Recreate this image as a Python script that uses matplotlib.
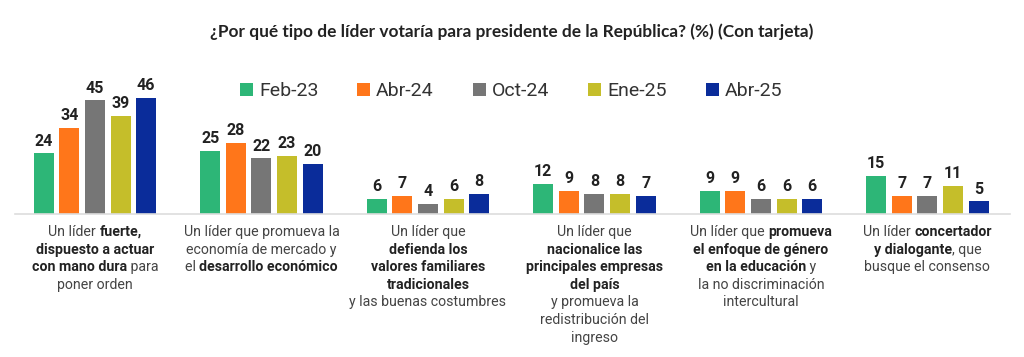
import matplotlib
matplotlib.use("Agg")
import matplotlib.pyplot as plt
from matplotlib import font_manager
from matplotlib.patches import Patch
from matplotlib.transforms import blended_transform_factory, offset_copy
import numpy as np

plt.rcParams["font.family"] = ["Roboto", "DejaVu Sans"]

# survey waves and values (%)
waves = ["Feb-23", "Abr-24", "Oct-24", "Ene-25", "Abr-25"]
colors = ["#2DB677", "#FF761A", "#767676", "#C5BE2A", "#0A2C9A"]

feb23 = [24, 25, 6, 12, 9, 15]
abr24 = [34, 28, 7, 9, 9, 7]
oct24 = [45, 22, 4, 8, 6, 7]
ene25 = [39, 23, 6, 8, 6, 11]
abr25 = [46, 20, 8, 7, 6, 5]
series = [feb23, abr24, oct24, ene25, abr25]

title = "¿Por qué tipo de líder votaría para presidente de la República? (%) (Con tarjeta)"

# category labels: lines of (text, bold) pieces
categories = [
    [[("Un líder ", 0), ("fuerte,", 1)],
     [("dispuesto a actuar", 1)],
     [("con mano dura", 1), (" para", 0)],
     [("poner orden", 0)]],
    [[("Un líder que promueva la", 0)],
     [("economía de mercado y", 0)],
     [("el ", 0), ("desarrollo económico", 1)]],
    [[("Un líder que", 0)],
     [("defienda los", 1)],
     [("valores familiares", 1)],
     [("tradicionales", 1)],
     [("y las buenas costumbres", 0)]],
    [[("Un líder que", 0)],
     [("nacionalice las", 1)],
     [("principales empresas", 1)],
     [("del país", 1)],
     [("y promueva la", 0)],
     [("redistribución del", 0)],
     [("ingreso", 0)]],
    [[("Un líder que ", 0), ("promueva", 1)],
     [("el enfoque de género", 1)],
     [("en la educación", 1), (" y", 0)],
     [("la no discriminación", 0)],
     [("intercultural", 0)]],
    [[("Un líder ", 0), ("concertador", 1)],
     [("y dialogante", 1), (", que", 0)],
     [("busque el consenso", 0)]],
]

W, H = 1024, 357
fig = plt.figure(figsize=(W / 100, H / 100), dpi=100)
# axes from x=15..1010 px, baseline at y=214 px from top
ax = fig.add_axes([15 / W, (H - 214) / H, 995 / W, 154 / H])

x = np.arange(len(feb23))
bw, step = 0.12, 0.154
for i, (vals, c) in enumerate(zip(series, colors)):
    xs = x + (i - 2) * step
    ax.bar(xs, vals, width=bw, color=c, zorder=2)
    for xx, v in zip(xs, vals):
        ax.annotate(str(v), (xx, v), xytext=(0, 3.5), textcoords="offset points",
                    ha="center", va="bottom", fontsize=11.5, fontweight="bold",
                    color="#222222")

ax.set_xlim(-0.48, 5.496)
ax.set_ylim(0, 61)
for s in ["top", "right", "left"]:
    ax.spines[s].set_visible(False)
ax.spines["bottom"].set_color("#DDDDDD")
ax.spines["bottom"].set_linewidth(1.2)
ax.set_xticks([])
ax.set_yticks([])

handles = [Patch(facecolor=c, label=w) for w, c in zip(waves, colors)]
fig.legend(handles=handles, ncol=5, frameon=False, loc="center",
           bbox_to_anchor=(511 / W, 1 - 91 / H), fontsize=14,
           handlelength=0.68, handleheight=0.68, handletextpad=0.3,
           columnspacing=2.0, labelcolor="#333333")

# title in a narrow bold face if there is one, fitted to the reference width
title_family = "Lato"
try:
    font_manager.findfont("Liberation Sans Narrow", fallback_to_default=False)
    title_family = "Liberation Sans Narrow"
except Exception:
    pass
tt = fig.text(0.5, 1 - 32 / H, title, ha="center", va="center", fontsize=13,
              fontweight="bold", family=[title_family, "DejaVu Sans"],
              color="#222222")

fig.canvas.draw()
r = fig.canvas.get_renderer()
tw = tt.get_window_extent(r).width
tt.set_fontsize(min(15, 13 * 600 / tw))


def text_width(s, bold):
    t = fig.text(0, 0, s.replace(" ", "\u00a0"), fontsize=10.2,
                 fontweight="bold" if bold else "normal")
    w = t.get_window_extent(r).width
    t.remove()
    return w


# rich category labels, centred under each group
tr = blended_transform_factory(ax.transData, fig.transFigure)
line_h = 17.6
for gi, lines in enumerate(categories):
    for li, pieces in enumerate(lines):
        widths = [text_width(s, b) for s, b in pieces]
        start = -sum(widths) / 2
        y = 1 - (232 + li * line_h) / H
        for (s, b), w in zip(pieces, widths):
            t_off = offset_copy(tr, fig=fig, x=start * 72 / 100, units="points")
            fig.text(gi, y, s.replace(" ", "\u00a0"), transform=t_off,
                     ha="left", va="center", fontsize=10.2,
                     fontweight="bold" if b else "normal",
                     color="#222222" if b else "#444444")
            start += w

fig.savefig("out.png", dpi=100)
